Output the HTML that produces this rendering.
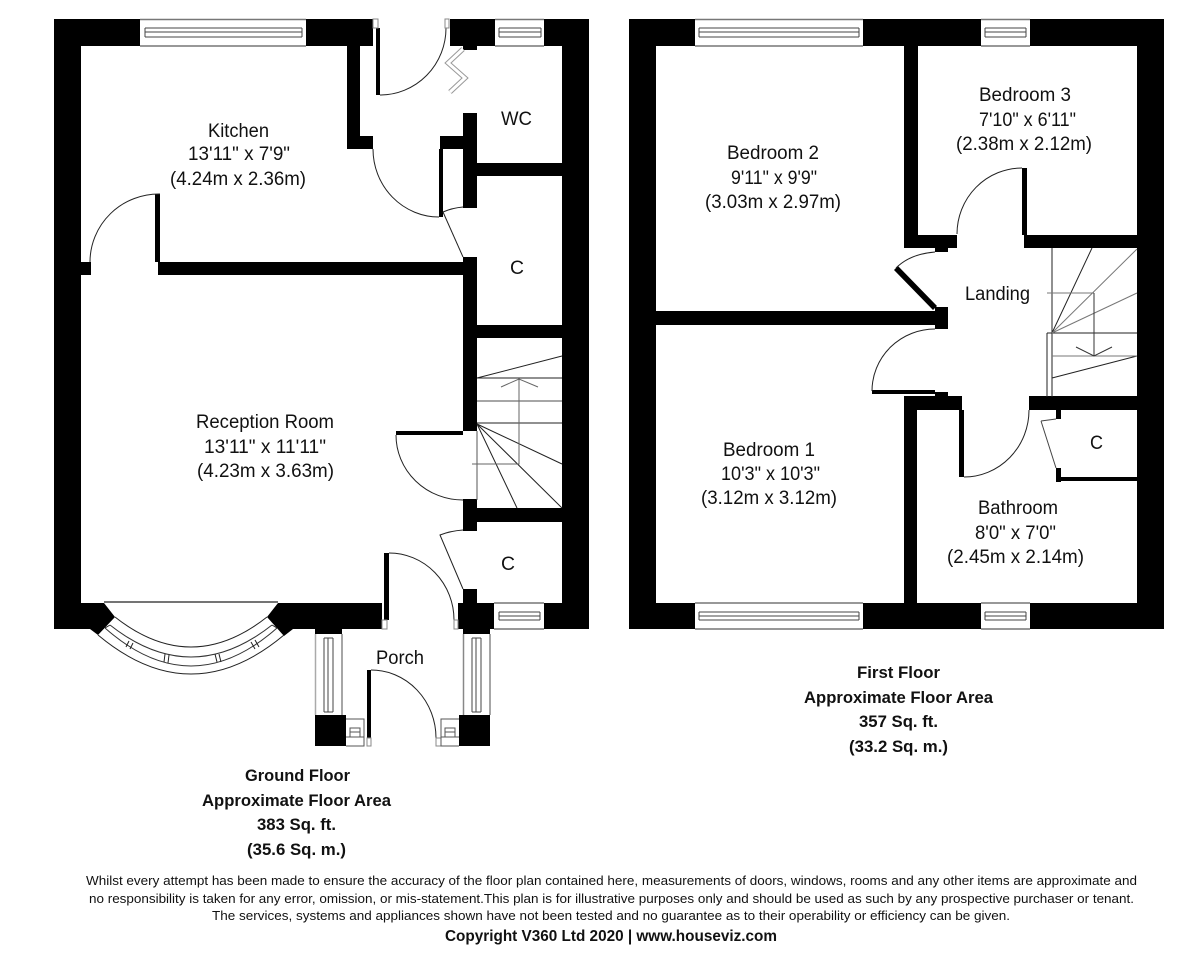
<!DOCTYPE html>
<html><head><meta charset="utf-8"><title>Floor Plan</title>
<style>
html,body{margin:0;padding:0;background:#fff}
svg{display:block}
text{font-family:"Liberation Sans",Arial,sans-serif;fill:#111;font-size:19px}
.b{font-weight:bold;font-size:16.5px}
.f{font-size:13px}
.c{font-weight:bold;font-size:16px}
.l{fill:none;stroke:#222;stroke-width:1}
</style></head>
<body>
<svg width="1200" height="954" viewBox="0 0 1200 954" xmlns="http://www.w3.org/2000/svg">

<!-- GROUND FLOOR WALLS -->
<g fill="#000">
<rect x="54" y="19" width="27" height="610"/>
<rect x="54" y="19" width="86" height="27"/>
<rect x="306" y="19" width="67" height="27"/>
<rect x="347" y="46" width="13" height="103"/>
<rect x="347" y="136" width="26" height="13"/>
<rect x="450" y="19" width="45" height="27"/>
<rect x="463" y="46" width="14" height="4"/>
<rect x="544" y="19" width="45" height="27"/>
<rect x="562" y="19" width="27" height="610"/>
<rect x="544" y="603" width="45" height="26"/>
<rect x="463" y="113" width="14" height="95"/>
<rect x="477" y="163" width="85" height="13"/>
<rect x="440" y="136" width="23" height="13"/>
<rect x="439" y="149" width="4" height="68"/>
<rect x="463" y="257" width="14" height="174"/>
<rect x="158" y="262" width="305" height="13"/>
<rect x="155" y="194" width="5" height="68"/>
<rect x="81" y="262" width="10" height="13"/>
<rect x="477" y="325" width="85" height="13"/>
<rect x="396" y="431" width="67" height="4"/>
<rect x="463" y="499" width="14" height="32"/>
<rect x="477" y="508" width="85" height="14"/>
<rect x="376" y="28" width="4" height="67"/>
<rect x="463" y="589" width="14" height="14"/>
<rect x="458" y="603" width="36" height="26"/>
<rect x="463" y="629" width="27" height="5"/>
<rect x="81" y="603" width="23" height="26"/>
<polygon points="54,603 104,603 115,617 98,635 90,629 54,629"/>
<polygon points="278,603 382,603 382,629 293,629 284,636 267,617"/>
<rect x="315" y="629" width="27" height="5"/>
<rect x="384" y="553" width="5" height="67"/>
<rect x="315" y="715" width="31" height="31"/>
<rect x="459" y="715" width="31" height="31"/>
<rect x="367" y="670" width="4" height="68"/>
</g>

<!-- ground thin details -->
<g class="l">
<path d="M380 95A66 67 0 0 0 446 28"/>
<path d="M373 149A66 68 0 0 0 439 217"/>
<path d="M443 212Q452 208 463 207"/>
<path d="M443 212L463 257"/>
<path d="M160 194A69 68 0 0 0 90 262"/>
<path d="M396 435A67 65 0 0 0 463 500"/>
<path d="M477 431V500" stroke="#555"/>
<path d="M389 553A65 67 0 0 1 454 620"/>
<path d="M463 530Q450 531 440 535L463 589"/>
<path d="M371 670A65 68 0 0 1 436 738"/>
<path d="M104 602H278" stroke-width="1.2"/>
<!-- stairs -->
<path d="M477 378L562 356M477 378H562M477 423H562M477 424L562 464M477 424L562 508M477 424L517 508"/>
<path d="M477 401H562" stroke="#888" stroke-width="1.5"/>
<path d="M519 379V464H472M501 387L519 379L538 387" stroke="#666"/>
<!-- door jamb boxes -->
<path d="M373 19H378V28H373Z M445 19H449V28H445Z" stroke="#888"/>
<path d="M382 620H387V629H382Z M454 620H458V629H454Z" stroke="#888"/>
<path d="M367 738H371V746H367Z M436 738H441V746H436Z" stroke="#888"/>
<path d="M346 719H364V746H346M346 737H364" stroke="#555"/>
<path d="M350 728H360V737H350ZM350 732H360" stroke="#555"/>
<path d="M459 719H441V746H459M441 737H459" stroke="#555"/>
<path d="M445 728H455V737H445ZM445 732H455" stroke="#555"/>
</g>

<!-- WC zigzag -->
<polyline points="463,49 448,63 465,78 450,92" fill="none" stroke="#999" stroke-width="5"/>
<polyline points="463,49 448,63 465,78 450,92" fill="none" stroke="#fff" stroke-width="3"/>

<!-- Bay window -->
<g fill="none" stroke="#222" stroke-width="1">
<path d="M115 617Q191 677 267 617"/>
<path d="M98 635Q191 713 284 635"/>
<path d="M110 625Q191 689 272 625" stroke="#333"/>
<path d="M105 628Q191 704 277 628" stroke="#333"/>
<path d="M129 641L126 647M133 643L130 649M165 654L164 662M169 655L168 663M215 654L217 662M219 654L221 662M251 642L255 649M255 640L259 647M110 625L105 628M272 625L277 628"/>
</g>

<!-- Horizontal windows: ground -->
<g fill="none">
<path d="M140 19.5H306M140 46H306" stroke="#777" stroke-width="1.5"/>
<path d="M145 28H302M145 32H302M145 37H302M145 28V37M302 28V37" stroke="#444"/>
<path d="M495 19.5H544M495 46H544" stroke="#777" stroke-width="1.5"/>
<path d="M499 28H541M499 32H541M499 37H541M499 28V37M541 28V37" stroke="#444"/>
<path d="M494 603H544M494 629H544" stroke="#777" stroke-width="1.5"/>
<path d="M499 612H540M499 616H540M499 620H540M499 612V620M540 612V620" stroke="#444"/>
<!-- vertical porch windows -->
<path d="M315.5 634V715" stroke="#aaa" stroke-width="1.5"/><path d="M342 634V715" stroke="#888" stroke-width="1.5"/>
<path d="M324 638V712M328 638V712M333 638V712M324 638H333M324 712H333" stroke="#444"/>
<path d="M463.5 634V715" stroke="#888" stroke-width="1.5"/><path d="M490 634V715" stroke="#888" stroke-width="1.5"/>
<path d="M472 638V712M476 638V712M481 638V712M472 638H481M472 712H481" stroke="#444"/>
</g>

<!-- FIRST FLOOR WALLS -->
<g fill="#000">
<rect x="629" y="19" width="27" height="610"/>
<rect x="629" y="19" width="66" height="27"/>
<rect x="863" y="19" width="118" height="27"/>
<rect x="1030" y="19" width="134" height="27"/>
<rect x="1137" y="19" width="27" height="610"/>
<rect x="629" y="603" width="66" height="26"/>
<rect x="863" y="603" width="118" height="26"/>
<rect x="1030" y="603" width="134" height="26"/>
<rect x="904" y="46" width="14" height="202"/>
<rect x="904" y="235" width="53" height="13"/>
<rect x="935" y="248" width="13" height="4"/>
<rect x="1024" y="235" width="113" height="13"/>
<rect x="1022" y="168" width="5" height="67"/>
<rect x="656" y="311" width="279" height="14"/>
<rect x="935" y="307" width="13" height="22"/>
<polygon points="894,270 898,266 937,306 933,310"/>
<rect x="872" y="390" width="63" height="4"/>
<rect x="935" y="392" width="13" height="4"/>
<rect x="904" y="396" width="58" height="14"/>
<rect x="904" y="396" width="13" height="207"/>
<rect x="959" y="410" width="5" height="67"/>
<rect x="1029" y="396" width="108" height="14"/>
<rect x="1056" y="410" width="5" height="9"/>
<rect x="1056" y="468" width="5" height="14"/>
<rect x="1056" y="477" width="81" height="4"/>
</g>
<g class="l">
<path d="M1022 168A65 66 0 0 0 957 234"/>
<path d="M935 252Q910 254 896 268"/>
<path d="M935 329A63 62 0 0 0 872 391"/>
<path d="M964 477A65 67 0 0 0 1029 410"/>
<path d="M1041 421L1056 419M1041 421L1056 468" stroke="#444"/>
<!-- stairs -->
<path d="M1052 248V333M1052 333L1092 248M1047 333H1137M1047 333V397M1052 333V397M1052 378L1137 356"/>
<path d="M1052 333L1137 249M1052 333L1137 293M1047 293H1094M1052 356H1137" stroke="#777"/>
<path d="M1094 293V356M1076 347L1094 356L1112 347" stroke="#333"/>
</g>
<!-- First windows -->
<g fill="none">
<path d="M695 19.5H863M695 46H863" stroke="#777" stroke-width="1.5"/>
<path d="M699 28H859M699 32H859M699 37H859M699 28V37M859 28V37" stroke="#444"/>
<path d="M981 19.5H1030M981 46H1030" stroke="#777" stroke-width="1.5"/>
<path d="M985 28H1026M985 32H1026M985 37H1026M985 28V37M1026 28V37" stroke="#444"/>
<path d="M695 603H863M695 629H863" stroke="#777" stroke-width="1.5"/>
<path d="M699 612H859M699 616H859M699 620H859M699 612V620M859 612V620" stroke="#444"/>
<path d="M981 603H1030M981 629H1030" stroke="#777" stroke-width="1.5"/>
<path d="M985 612H1026M985 616H1026M985 620H1026M985 612V620M1026 612V620" stroke="#444"/>
</g>

<!-- ROOM LABELS -->
<text x="208" y="137" textLength="61" lengthAdjust="spacingAndGlyphs">Kitchen</text>
<text x="188" y="160" textLength="102" lengthAdjust="spacingAndGlyphs">13'11" x 7'9"</text>
<text x="170" y="185" textLength="136" lengthAdjust="spacingAndGlyphs">(4.24m x 2.36m)</text>
<text x="196" y="428" textLength="138" lengthAdjust="spacingAndGlyphs">Reception Room</text>
<text x="204" y="453" textLength="122" lengthAdjust="spacingAndGlyphs">13'11" x 11'11"</text>
<text x="197" y="477" textLength="137" lengthAdjust="spacingAndGlyphs">(4.23m x 3.63m)</text>
<text x="501" y="125" textLength="31" lengthAdjust="spacingAndGlyphs">WC</text>
<text x="510" y="274" textLength="14" lengthAdjust="spacingAndGlyphs">C</text>
<text x="501" y="570" textLength="14" lengthAdjust="spacingAndGlyphs">C</text>
<text x="376" y="664" textLength="48" lengthAdjust="spacingAndGlyphs">Porch</text>
<text x="727" y="159" textLength="92" lengthAdjust="spacingAndGlyphs">Bedroom 2</text>
<text x="731" y="184" textLength="86" lengthAdjust="spacingAndGlyphs">9'11" x 9'9"</text>
<text x="705" y="208" textLength="136" lengthAdjust="spacingAndGlyphs">(3.03m x 2.97m)</text>
<text x="979" y="101" textLength="92" lengthAdjust="spacingAndGlyphs">Bedroom 3</text>
<text x="979" y="126" textLength="97" lengthAdjust="spacingAndGlyphs">7'10" x 6'11"</text>
<text x="956" y="150" textLength="136" lengthAdjust="spacingAndGlyphs">(2.38m x 2.12m)</text>
<text x="965" y="300" textLength="65" lengthAdjust="spacingAndGlyphs">Landing</text>
<text x="1090" y="449" textLength="13" lengthAdjust="spacingAndGlyphs">C</text>
<text x="723" y="456" textLength="92" lengthAdjust="spacingAndGlyphs">Bedroom 1</text>
<text x="721" y="480" textLength="99" lengthAdjust="spacingAndGlyphs">10'3" x 10'3"</text>
<text x="701" y="504" textLength="136" lengthAdjust="spacingAndGlyphs">(3.12m x 3.12m)</text>
<text x="978" y="514" textLength="80" lengthAdjust="spacingAndGlyphs">Bathroom</text>
<text x="975" y="539" textLength="81" lengthAdjust="spacingAndGlyphs">8'0" x 7'0"</text>
<text x="947" y="563" textLength="137" lengthAdjust="spacingAndGlyphs">(2.45m x 2.14m)</text>

<!-- FLOOR AREA -->
<text class="b" x="245" y="781" textLength="105" lengthAdjust="spacingAndGlyphs">Ground Floor</text>
<text class="b" x="202" y="806" textLength="189" lengthAdjust="spacingAndGlyphs">Approximate Floor Area</text>
<text class="b" x="257" y="830" textLength="79" lengthAdjust="spacingAndGlyphs">383 Sq. ft.</text>
<text class="b" x="247" y="855" textLength="99" lengthAdjust="spacingAndGlyphs">(35.6 Sq. m.)</text>
<text class="b" x="857" y="678" textLength="83" lengthAdjust="spacingAndGlyphs">First Floor</text>
<text class="b" x="804" y="703" textLength="189" lengthAdjust="spacingAndGlyphs">Approximate Floor Area</text>
<text class="b" x="859" y="727" textLength="79" lengthAdjust="spacingAndGlyphs">357 Sq. ft.</text>
<text class="b" x="849" y="752" textLength="99" lengthAdjust="spacingAndGlyphs">(33.2 Sq. m.)</text>

<!-- FOOTER -->
<text class="f" x="86" y="885" textLength="1051" lengthAdjust="spacingAndGlyphs">Whilst every attempt has been made to ensure the accuracy of the floor plan contained here, measurements of doors, windows, rooms and any other items are approximate and</text>
<text class="f" x="89" y="903" textLength="1045" lengthAdjust="spacingAndGlyphs">no responsibility is taken for any error, omission, or mis-statement.This plan is for illustrative purposes only and should be used as such by any prospective purchaser or tenant.</text>
<text class="f" x="212" y="920" textLength="798" lengthAdjust="spacingAndGlyphs">The services, systems and appliances shown have not been tested and no guarantee as to their operability or efficiency can be given.</text>
<text class="c" x="445" y="941" textLength="332" lengthAdjust="spacingAndGlyphs">Copyright V360 Ltd 2020 | www.houseviz.com</text>
</svg>
</body></html>
